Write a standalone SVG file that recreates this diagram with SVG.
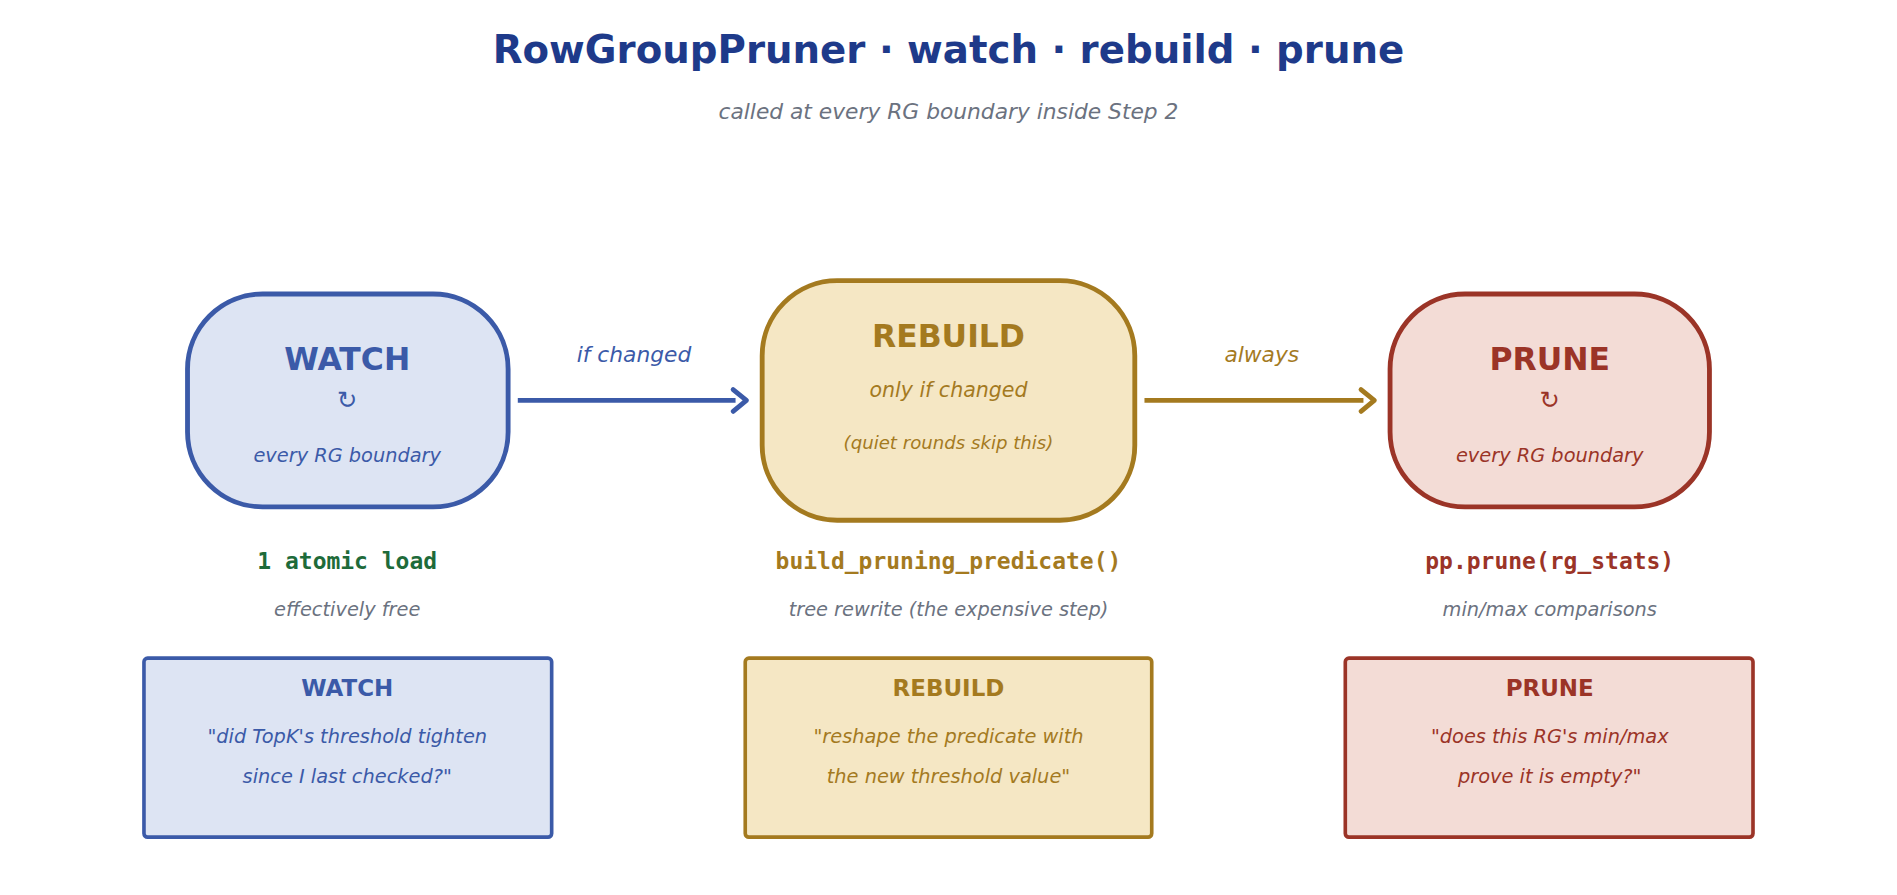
<svg xmlns="http://www.w3.org/2000/svg" width="1897" height="895" viewBox="0 0 1897 895">
<style>
text{font-family:"DejaVu Sans","Noto Sans",sans-serif;text-anchor:middle}
.it{font-style:italic}
.b{font-weight:bold}
.m{font-family:"DejaVu Sans Mono","Liberation Mono",monospace;font-weight:bold;font-size:19px}
.blue{fill:#3b5aa8}.gold{fill:#a47a1f}.red{fill:#9b3427}.grey{fill:#6b7280}
</style>
<defs>
<marker id="ab" viewBox="0 0 12 12" refX="10" refY="6" markerWidth="5" markerHeight="5" orient="auto" markerUnits="userSpaceOnUse" style="overflow:visible"><path d="M-2,-2 L10,6 L-2,14" fill="none" stroke="#3b5aa8" stroke-width="4" stroke-linecap="round" stroke-linejoin="round" transform="scale(0.9)"/></marker>
<marker id="ag" viewBox="0 0 12 12" refX="10" refY="6" markerWidth="5" markerHeight="5" orient="auto" markerUnits="userSpaceOnUse" style="overflow:visible"><path d="M-2,-2 L10,6 L-2,14" fill="none" stroke="#a47a1f" stroke-width="4" stroke-linecap="round" stroke-linejoin="round" transform="scale(0.9)"/></marker>
</defs>
<rect width="1897" height="895" fill="#fff"/>
<g transform="scale(1.2098)">
<text x="784" y="52" class="b" font-size="32" fill="#1e3a8a">RowGroupPruner · watch · rebuild · prune</text>
<text x="784" y="98" class="it grey" font-size="18">called at every RG boundary inside Step 2</text>

<g id="connectors">
<line x1="428" y1="331" x2="608" y2="331" stroke="#3b5aa8" stroke-width="4"/>
<path d="M606,322 L617,331 L606,340" fill="none" stroke="#3b5aa8" stroke-width="4" stroke-linecap="round" stroke-linejoin="round"/>
<text x="524" y="299" class="it blue" font-size="18">if changed</text>
<line x1="946" y1="331" x2="1127" y2="331" stroke="#a47a1f" stroke-width="4"/>
<path d="M1125,322 L1136,331 L1125,340" fill="none" stroke="#a47a1f" stroke-width="4" stroke-linecap="round" stroke-linejoin="round"/>
<text x="1043" y="299" class="it gold" font-size="18">always</text>
</g>

<g id="watch">
<rect x="155" y="243" width="265" height="176" rx="62" fill="#dde4f3" stroke="#3b5aa8" stroke-width="4"/>
<text x="287" y="306" class="b blue" font-size="26">WATCH</text>
<text x="287" y="337" class="blue" font-size="20">↻</text>
<text x="287" y="382" class="it blue" font-size="16">every RG boundary</text>
</g>
<g id="rebuild">
<rect x="630" y="232" width="308" height="198" rx="62" fill="#f5e7c4" stroke="#a47a1f" stroke-width="4"/>
<text x="784" y="287" class="b gold" font-size="26">REBUILD</text>
<text x="784" y="328" class="it gold" font-size="17">only if changed</text>
<text x="784" y="371" class="it gold" font-size="15">(quiet rounds skip this)</text>
</g>
<g id="prune">
<rect x="1149" y="243" width="264" height="176" rx="62" fill="#f3dcd6" stroke="#9b3427" stroke-width="4"/>
<text x="1281" y="306" class="b red" font-size="26">PRUNE</text>
<text x="1281" y="337" class="red" font-size="20">↻</text>
<text x="1281" y="382" class="it red" font-size="16">every RG boundary</text>
</g>

<g id="watch-cost">
<text x="287" y="470" class="m" fill="#1e6b3a">1 atomic load</text>
<text x="287" y="509" class="it grey" font-size="16">effectively free</text>
</g>
<g id="rebuild-cost">
<text x="784" y="470" class="m gold">build_pruning_predicate()</text>
<text x="784" y="509" class="it grey" font-size="16">tree rewrite (the expensive step)</text>
</g>
<g id="prune-cost">
<text x="1281" y="470" class="m red">pp.prune(rg_stats)</text>
<text x="1281" y="509" class="it grey" font-size="16">min/max comparisons</text>
</g>

<g id="watch-note">
<rect x="119" y="544" width="337" height="148" rx="3" fill="#dde4f3" stroke="#3b5aa8" stroke-width="3"/>
<text x="287" y="575" class="b blue" font-size="19">WATCH</text>
<text x="287" y="614" class="it blue" font-size="16">"did TopK's threshold tighten</text>
<text x="287" y="647" class="it blue" font-size="16">since I last checked?"</text>
</g>
<g id="rebuild-note">
<rect x="616" y="544" width="336" height="148" rx="3" fill="#f5e7c4" stroke="#a47a1f" stroke-width="3"/>
<text x="784" y="575" class="b gold" font-size="19">REBUILD</text>
<text x="784" y="614" class="it gold" font-size="16">"reshape the predicate with</text>
<text x="784" y="647" class="it gold" font-size="16">the new threshold value"</text>
</g>
<g id="prune-note">
<rect x="1112" y="544" width="337" height="148" rx="3" fill="#f3dcd6" stroke="#9b3427" stroke-width="3"/>
<text x="1281" y="575" class="b red" font-size="19">PRUNE</text>
<text x="1281" y="614" class="it red" font-size="16">"does this RG's min/max</text>
<text x="1281" y="647" class="it red" font-size="16">prove it is empty?"</text>
</g>
</g>
</svg>
